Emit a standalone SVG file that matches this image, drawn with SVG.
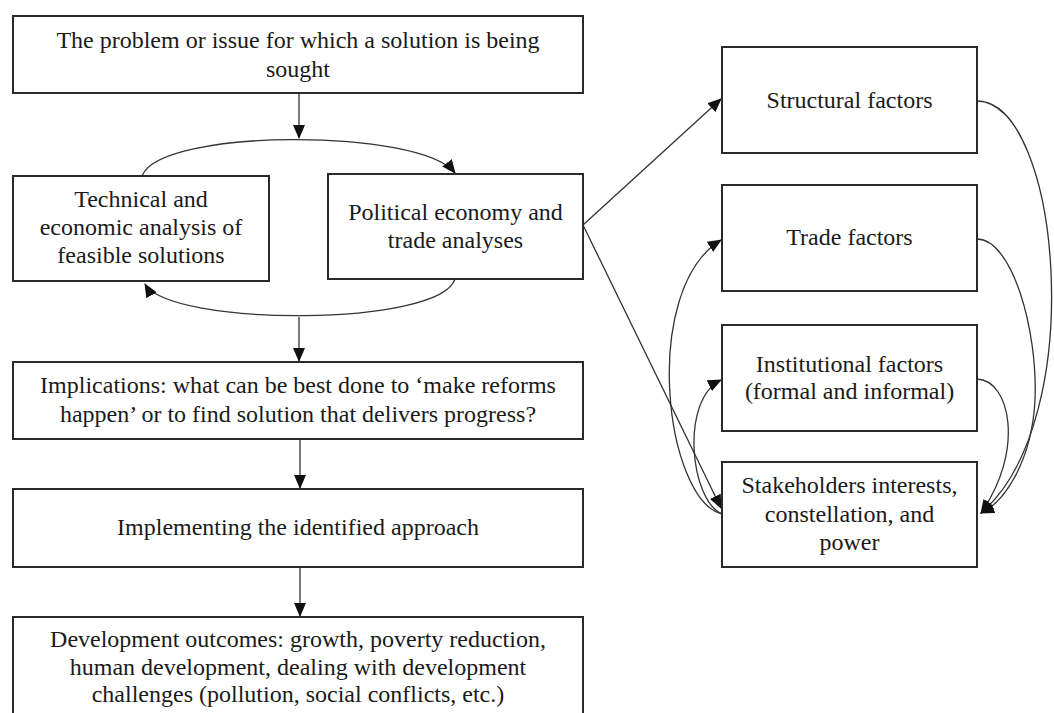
<svg xmlns="http://www.w3.org/2000/svg" width="1054" height="713" viewBox="0 0 1054 713">
<style>
.box{fill:#fff;stroke:#2a2a2a;stroke-width:2}
.t{font-family:"Liberation Serif","Times New Roman",serif;font-size:24px;fill:#1a1a1a;text-anchor:middle}
.c{fill:none;stroke:#333;stroke-width:1.3}
</style>
<defs>
<marker id="ah" markerUnits="userSpaceOnUse" markerWidth="14" markerHeight="12" viewBox="0 0 14 12" refX="13" refY="6" orient="auto">
<path d="M0,0 L14,6 L0,12 Z" fill="#111"/>
</marker>
</defs>
<rect width="1054" height="713" fill="#fff"/>
<g id="connectors">
<line class="c" x1="299" y1="93" x2="299" y2="138" marker-end="url(#ah)"/>
<path class="c" d="M142,176 C160,128 420,128 455,173" marker-end="url(#ah)"/>
<path class="c" d="M455,279 C440,327 170,327 145,284" marker-end="url(#ah)"/>
<line class="c" x1="299" y1="317" x2="299" y2="361" marker-end="url(#ah)"/>
<line class="c" x1="300" y1="439" x2="300" y2="488" marker-end="url(#ah)"/>
<line class="c" x1="300" y1="567" x2="300" y2="616" marker-end="url(#ah)"/>
<line class="c" x1="583" y1="225" x2="721" y2="99" marker-end="url(#ah)"/>
<line class="c" x1="583" y1="225" x2="721" y2="508" marker-end="url(#ah)"/>
<path class="c" d="M722,514 C665,500 640,290 721,240" marker-end="url(#ah)"/>
<path class="c" d="M722,514 C690,500 680,400 721,380" marker-end="url(#ah)"/>
<path class="c" d="M977,101 C1060,101 1090,420 981,513" marker-end="url(#ah)"/>
<path class="c" d="M977,239 C1012,239 1038,330 1035,400 C1032,460 1005,502 981,513" marker-end="url(#ah)"/>
<path class="c" d="M977,379 C1010,380 1025,450 981,513" marker-end="url(#ah)"/>
</g>
<g id="n-problem">
<rect class="box" x="13" y="16" width="570" height="77"/>
<text class="t" x="298" y="48">The problem or issue for which a solution is being</text>
<text class="t" x="298" y="77">sought</text>
</g>
<g id="n-technical">
<rect class="box" x="13" y="176" width="256" height="105"/>
<text class="t" x="141" y="207">Technical and</text>
<text class="t" x="141" y="235">economic analysis of</text>
<text class="t" x="141" y="263">feasible solutions</text>
</g>
<g id="n-political">
<rect class="box" x="328" y="174" width="255" height="105"/>
<text class="t" x="455.5" y="220">Political economy and</text>
<text class="t" x="455.5" y="248">trade analyses</text>
</g>
<g id="n-implications">
<rect class="box" x="13" y="362" width="570" height="77"/>
<text class="t" x="298" y="393">Implications: what can be best done to ‘make reforms</text>
<text class="t" x="298" y="422">happen’ or to find solution that delivers progress?</text>
</g>
<g id="n-implementing">
<rect class="box" x="13" y="489" width="570" height="78"/>
<text class="t" x="298" y="535">Implementing the identified approach</text>
</g>
<g id="n-development">
<rect class="box" x="13" y="617" width="570" height="110"/>
<text class="t" x="298" y="647">Development outcomes: growth, poverty reduction,</text>
<text class="t" x="298" y="675">human development, dealing with development</text>
<text class="t" x="298" y="702">challenges (pollution, social conflicts, etc.)</text>
</g>
<g id="n-structural">
<rect class="box" x="722" y="47" width="255" height="106"/>
<text class="t" x="849.5" y="108">Structural factors</text>
</g>
<g id="n-trade">
<rect class="box" x="722" y="185" width="255" height="106"/>
<text class="t" x="849.5" y="245">Trade factors</text>
</g>
<g id="n-institutional">
<rect class="box" x="722" y="325" width="255" height="106"/>
<text class="t" x="849.5" y="372">Institutional factors</text>
<text class="t" x="849.5" y="399">(formal and informal)</text>
</g>
<g id="n-stakeholders">
<rect class="box" x="722" y="462" width="255" height="105"/>
<text class="t" x="849.5" y="493">Stakeholders interests,</text>
<text class="t" x="849.5" y="522">constellation, and</text>
<text class="t" x="849.5" y="550">power</text>
</g>
</svg>
